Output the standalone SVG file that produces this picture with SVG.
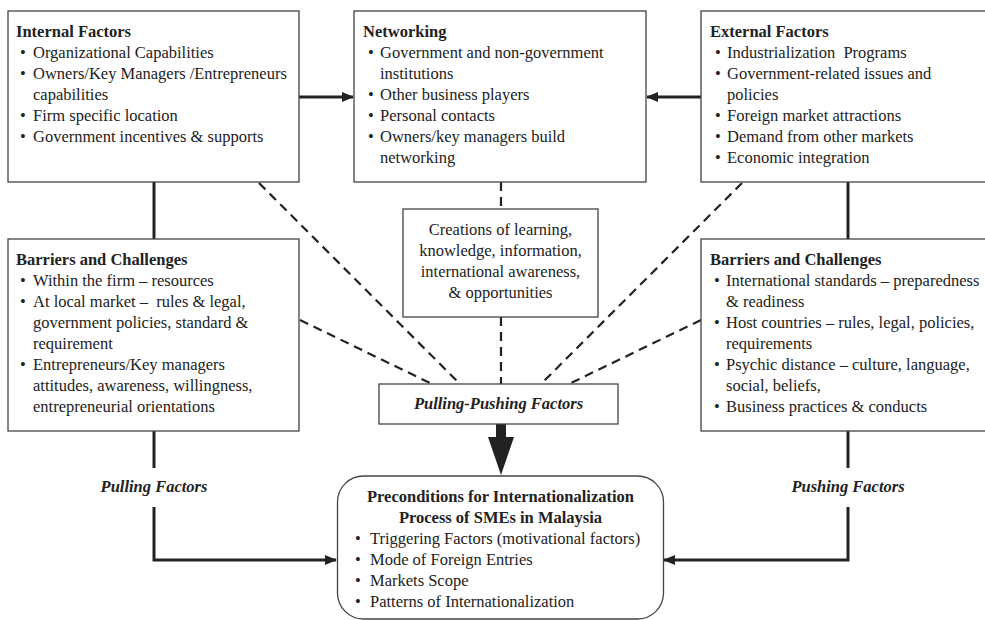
<svg xmlns="http://www.w3.org/2000/svg" width="985" height="620" viewBox="0 0 985 620">
<style>
.box{fill:#fff;stroke:#444;stroke-width:1.3}
.t{font-family:"Liberation Serif","Times New Roman",serif;font-size:16.5px;fill:#222}
.b{font-weight:bold}
.bi{font-weight:bold;font-style:italic}
.c{text-anchor:middle}
.solid{fill:none;stroke:#222;stroke-width:3}
.dash{fill:none;stroke:#222;stroke-width:2.2;stroke-dasharray:9 6}
</style>
<defs>
<marker id="ah" markerWidth="12" markerHeight="10" refX="11" refY="5" orient="auto" markerUnits="userSpaceOnUse">
<path d="M0,0 L12,5 L0,10 Z" fill="#222"/>
</marker>
</defs>
<rect width="985" height="620" fill="#fff"/>

<g id="connectors">
<line class="solid" x1="299" y1="97" x2="353" y2="97" marker-end="url(#ah)"/>
<line class="solid" x1="701" y1="97" x2="647" y2="97" marker-end="url(#ah)"/>
<line class="solid" x1="154" y1="182" x2="154" y2="239"/>
<line class="solid" x1="848" y1="182" x2="848" y2="239"/>
<line class="solid" x1="154" y1="431" x2="154" y2="468"/>
<polyline class="solid" points="154,507 154,560 336,560" marker-end="url(#ah)"/>
<line class="solid" x1="848" y1="431" x2="848" y2="468"/>
<polyline class="solid" points="848,507 848,560 664,560" marker-end="url(#ah)"/>
<line class="dash" x1="501" y1="182" x2="501" y2="209"/>
<line class="dash" x1="501" y1="317" x2="501" y2="384"/>
<line class="dash" x1="259" y1="183" x2="460" y2="384"/>
<line class="dash" x1="300" y1="320" x2="432" y2="384"/>
<line class="dash" x1="742" y1="183" x2="541" y2="384"/>
<line class="dash" x1="701" y1="320" x2="569" y2="384"/>
<path d="M496,424 H506 V437 H514 L501,475 L488,437 H496 Z" fill="#222"/>
</g>

<g id="internal">
<rect class="box" x="8" y="11" width="291" height="171"/>
<text class="t b" x="16" y="37">Internal Factors</text>
<text class="t" x="20" y="58">•</text><text class="t" x="33" y="58">Organizational Capabilities</text>
<text class="t" x="20" y="79">•</text><text class="t" x="33" y="79">Owners/Key Managers /Entrepreneurs</text>
<text class="t" x="33" y="100">capabilities</text>
<text class="t" x="20" y="121">•</text><text class="t" x="33" y="121">Firm specific location</text>
<text class="t" x="20" y="142">•</text><text class="t" x="33" y="142">Government incentives &amp; supports</text>
</g>

<g id="networking">
<rect class="box" x="354" y="11" width="292" height="171"/>
<text class="t b" x="363" y="37">Networking</text>
<text class="t" x="368" y="58">•</text><text class="t" x="380" y="58">Government and non-government</text>
<text class="t" x="380" y="79">institutions</text>
<text class="t" x="368" y="100">•</text><text class="t" x="380" y="100">Other business players</text>
<text class="t" x="368" y="121">•</text><text class="t" x="380" y="121">Personal contacts</text>
<text class="t" x="368" y="142">•</text><text class="t" x="380" y="142">Owners/key managers build</text>
<text class="t" x="380" y="163">networking</text>
</g>

<g id="external">
<rect class="box" x="701" y="11" width="300" height="171"/>
<text class="t b" x="710" y="37">External Factors</text>
<text class="t" x="715" y="58">•</text><text class="t" x="727" y="58">Industrialization&#160; Programs</text>
<text class="t" x="715" y="79">•</text><text class="t" x="727" y="79">Government-related issues and</text>
<text class="t" x="727" y="100">policies</text>
<text class="t" x="715" y="121">•</text><text class="t" x="727" y="121">Foreign market attractions</text>
<text class="t" x="715" y="142">•</text><text class="t" x="727" y="142">Demand from other markets</text>
<text class="t" x="715" y="163">•</text><text class="t" x="727" y="163">Economic integration</text>
</g>

<g id="creations">
<rect class="box" x="403" y="209" width="195" height="108"/>
<text class="t c" x="500.5" y="235">Creations of learning,</text>
<text class="t c" x="500.5" y="256">knowledge, information,</text>
<text class="t c" x="500.5" y="277">international awareness,</text>
<text class="t c" x="500.5" y="298">&amp; opportunities</text>
</g>

<g id="barriers-left">
<rect class="box" x="8" y="239" width="291" height="192"/>
<text class="t b" x="16" y="265">Barriers and Challenges</text>
<text class="t" x="20" y="286">•</text><text class="t" x="33" y="286">Within the firm – resources</text>
<text class="t" x="20" y="307">•</text><text class="t" x="33" y="307">At local market –&#160; rules &amp; legal,</text>
<text class="t" x="33" y="328">government policies, standard &amp;</text>
<text class="t" x="33" y="349">requirement</text>
<text class="t" x="20" y="370">•</text><text class="t" x="33" y="370">Entrepreneurs/Key managers</text>
<text class="t" x="33" y="391">attitudes, awareness, willingness,</text>
<text class="t" x="33" y="412">entrepreneurial orientations</text>
</g>

<g id="barriers-right">
<rect class="box" x="701" y="239" width="300" height="192"/>
<text class="t b" x="710" y="265">Barriers and Challenges</text>
<text class="t" x="714" y="286">•</text><text class="t" x="726" y="286">International standards – preparedness</text>
<text class="t" x="726" y="307">&amp; readiness</text>
<text class="t" x="714" y="328">•</text><text class="t" x="726" y="328">Host countries – rules, legal, policies,</text>
<text class="t" x="726" y="349">requirements</text>
<text class="t" x="714" y="370">•</text><text class="t" x="726" y="370">Psychic distance – culture, language,</text>
<text class="t" x="726" y="391">social, beliefs,</text>
<text class="t" x="714" y="412">•</text><text class="t" x="726" y="412">Business practices &amp; conducts</text>
</g>

<g id="pulling-pushing">
<rect class="box" x="379" y="384" width="239" height="40"/>
<text class="t bi c" x="498.5" y="409">Pulling-Pushing Factors</text>
</g>

<g id="pulling-label">
<text class="t bi c" x="154" y="492">Pulling Factors</text>
</g>
<g id="pushing-label">
<text class="t bi c" x="848" y="492">Pushing Factors</text>
</g>

<g id="preconditions">
<rect class="box" x="337.5" y="476" width="326" height="143" rx="26" ry="26"/>
<text class="t b c" x="500.5" y="502">Preconditions for Internationalization</text>
<text class="t b c" x="500.5" y="523">Process of SMEs in Malaysia</text>
<text class="t" x="355" y="544">•</text><text class="t" x="370" y="544">Triggering Factors (motivational factors)</text>
<text class="t" x="355" y="565">•</text><text class="t" x="370" y="565">Mode of Foreign Entries</text>
<text class="t" x="355" y="586">•</text><text class="t" x="370" y="586">Markets Scope</text>
<text class="t" x="355" y="607">•</text><text class="t" x="370" y="607">Patterns of Internationalization</text>
</g>
</svg>
